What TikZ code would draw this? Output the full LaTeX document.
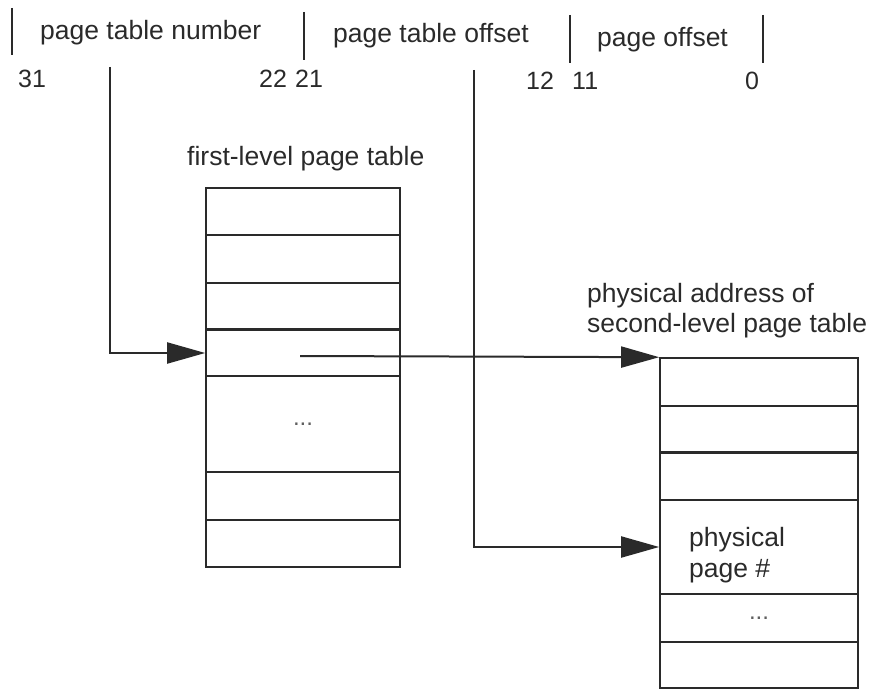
\documentclass[tikz,border=0pt]{standalone}
\usepackage{fontspec}
\setmainfont{Liberation Sans}
\usetikzlibrary{arrows.meta}
\definecolor{ink}{HTML}{2A2A2A}
\begin{document}
\begin{tikzpicture}[x=1pt,y=-1pt,
  lbl/.style={inner sep=0pt, anchor=base west, text=ink, font=\fontsize{26.5}{31}\selectfont},
  num/.style={inner sep=0pt, anchor=base west, text=ink, font=\fontsize{25}{30}\selectfont},
  row/.style={draw=ink, line width=1.6pt, minimum width=#1, inner sep=0pt},
  bar/.style={draw=ink, line width=2pt},
  arr/.style={draw=ink, line width=2pt, -{Triangle[length=38pt,width=21pt]}},
  dots/.style={inner sep=0pt, text=ink!75, font=\fontsize{24}{26}\selectfont}]
\useasboundingbox (0,0) rectangle (873,690);
% header
\draw[bar] (12,8) -- (12,55);
\draw[bar] (304,12) -- (304,60);
\draw[bar] (570,15) -- (570,63);
\draw[bar] (763,15) -- (763,63);
\node[lbl] (ptn) at (40,40) {page table number};
\node[lbl] (pto) at (333,43) {page table offset};
\node[lbl] (po) at (597,47) {page offset};
\node[num] (n31) at (18,88) {31};
\node[num] (n22) at (259,88) {22};
\node[num] (n21) at (295,88) {21};
\node[num] (n12) at (526,90) {12};
\node[num] (n11) at (572,90) {11};
\node[num] (n0) at (745,90) {0};
% first-level table
\node[lbl] (flabel) at (187,165) {first-level page table};
\node[row=194pt, minimum height=47pt] (f1) at (303,211.5) {};
\node[row=194pt, minimum height=48pt] (f2) at (303,259) {};
\node[row=194pt, minimum height=47pt] (f3) at (303,306.5) {};
\node[row=194pt, minimum height=46pt] (f4) at (303,353) {};
\node[row=194pt, minimum height=96pt] (f5) at (303,424) {};
\node[dots] at (f5.center) {...};
\node[row=194pt, minimum height=48pt] (f6) at (303,496) {};
\node[row=194pt, minimum height=47pt] (f7) at (303,543.5) {};
\draw[ink, line width=3pt] (f4.north west) -- (f4.north east);
% second-level table
\node[lbl] (sl1) at (587,302) {physical address of};
\node[lbl] (sl2) at (587,332) {second-level page table};
\node[row=198pt, minimum height=48pt] (s1) at (759,382) {};
\node[row=198pt, minimum height=47pt] (s2) at (759,429.5) {};
\node[row=198pt, minimum height=47pt] (s3) at (759,476.5) {};
\node[row=198pt, minimum height=94pt] (s4) at (759,547) {};
\node[row=198pt, minimum height=48pt] (s5) at (759,618) {};
\node[row=198pt, minimum height=46pt] (s6) at (759,665) {};
\draw[ink, line width=3pt] (s3.north west) -- (s3.north east);
\node[lbl] (pp1) at (689,546) {physical};
\node[lbl] (pp2) at (689,577) {page \#};
\node[dots] at (s5.center) {...};
% connectors
\coordinate (c1) at (110,67);
\coordinate (c2) at (474,70);
\coordinate (c3) at (300,356);
\draw[arr] (c1) |- (f4.west);
\draw[arr] (c3) -- (s1.north west);
\draw[arr] (c2) |- (s4.west);
\end{tikzpicture}
\end{document}
